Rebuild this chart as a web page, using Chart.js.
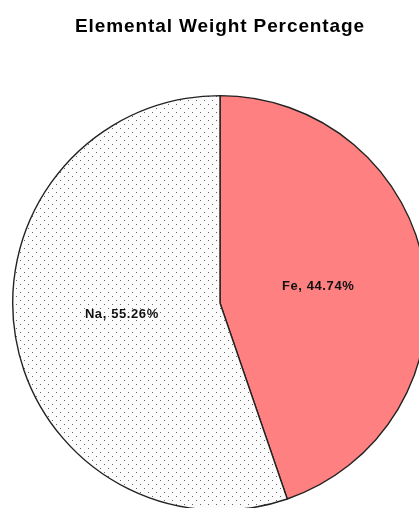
<!DOCTYPE html>
<html>
<head>
<meta charset="utf-8">
<script src="https://cdn.jsdelivr.net/npm/chart.js@4.4.1/dist/chart.umd.min.js"></script>
<style>
  html, body { margin: 0; padding: 0; background: #fff; overflow: hidden; }
  #wrap { width: 419px; height: 508px; overflow: hidden; }
</style>
</head>
<body>
<div id="wrap"><canvas id="pie" width="440" height="512"></canvas></div>
<script>
"use strict";

const chartTitle = "Elemental Weight Percentage";
const elements = ["Fe", "Na"];
const weightPct = [44.74, 55.26];
const sliceColors = ["#ff8080", "dots"];

// dotted fill like the old printer-style pattern
function dotPattern() {
  const tile = document.createElement("canvas");
  tile.width = 8;
  tile.height = 8;
  const t = tile.getContext("2d");
  t.fillStyle = "#fcfcfc";
  t.fillRect(0, 0, 8, 8);
  t.fillStyle = "#666";
  t.fillRect(0, 0, 1, 1);
  t.fillRect(4, 4, 1, 1);
  return document.getElementById("pie").getContext("2d").createPattern(tile, "repeat");
}

const fills = sliceColors.map((c) => (c === "dots" ? dotPattern() : c));

const spacingPlugin = {
  id: "spacing",
  beforeDraw(chart) {
    chart.ctx.letterSpacing = "0.9px";
  },
};

const sliceLabels = {
  id: "sliceLabels",
  afterDatasetsDraw(chart) {
    const ctx = chart.ctx;
    const meta = chart.getDatasetMeta(0);
    ctx.save();
    ctx.letterSpacing = "0.6px";
    ctx.font = "bold 13px 'Liberation Sans', Arial, sans-serif";
    ctx.fillStyle = "#111";
    ctx.textAlign = "center";
    ctx.textBaseline = "middle";
    meta.data.forEach((arc, i) => {
      const p = arc.getProps(["x", "y", "startAngle", "endAngle", "outerRadius"], true);
      const mid = (p.startAngle + p.endAngle) / 2;
      const r = p.outerRadius * 0.48;
      const txt = `${elements[i]}, ${weightPct[i].toFixed(2)}%`;
      ctx.fillText(txt, p.x + Math.cos(mid) * r, p.y + Math.sin(mid) * r - (i === 1 ? 5 : 0));
    });
    ctx.restore();
  },
};

new Chart(document.getElementById("pie"), {
  type: "pie",
  data: {
    labels: elements,
    datasets: [
      {
        data: weightPct,
        backgroundColor: fills,
        borderColor: "#222222",
        borderWidth: 1.4,
      },
    ],
  },
  options: {
    responsive: false,
    animation: false,
    layout: { padding: { left: 12, right: 12, top: 0, bottom: 1 } },
    plugins: {
      legend: { display: false },
      tooltip: { enabled: false },
      title: {
        display: true,
        text: chartTitle,
        color: "#000",
        font: { family: "'Liberation Sans', Arial, sans-serif", size: 19, weight: "bold" },
        padding: { top: 15, bottom: 57 },
      },
    },
  },
  plugins: [spacingPlugin, sliceLabels],
});
</script>
</body>
</html>
